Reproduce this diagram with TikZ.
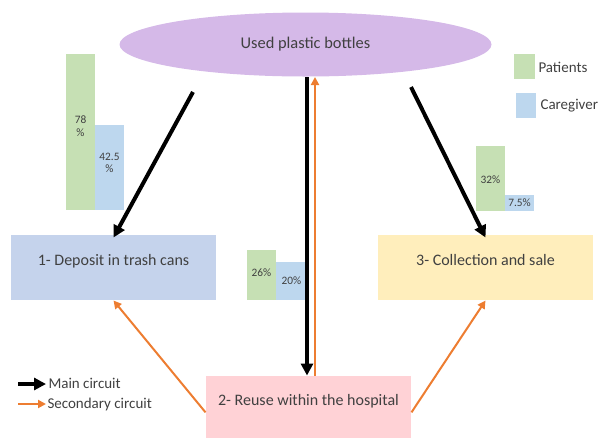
\documentclass[tikz,border=0pt]{standalone}
\usepackage{fontspec}
\setmainfont{Carlito}
\usetikzlibrary{arrows.meta,shapes.geometric}

\definecolor{ellpurple}{HTML}{D5B9E8}
\definecolor{barpatient}{HTML}{C6E0B4}
\definecolor{barcaregiver}{HTML}{BDD7EE}
\definecolor{depositblue}{HTML}{C5D3EC}
\definecolor{reusepink}{HTML}{FFD2D6}
\definecolor{saleyellow}{HTML}{FFEEBC}
\definecolor{secorange}{HTML}{ED7D31}
\definecolor{txtgray}{HTML}{404040}

\tikzset{every picture/.style={line width=0.75pt}}
\tikzset{
	stage/.style={draw=none, inner sep=0pt, text=txtgray, font=\fontsize{12}{14}\selectfont, text depth=11pt, minimum height=48.75pt},
	mainflow/.style={line width=3pt, -{Triangle[length=9pt,width=9pt]}},
	secflow/.style={secorange, line width=1.5pt, -{Triangle[length=6pt,width=6pt]}},
	barlabel/.style={text=txtgray, font=\fontsize{8.5}{9.5}\selectfont, align=center},
	legendlabel/.style={text=txtgray, font=\fontsize{11.25}{13}\selectfont, anchor=west, inner sep=0pt}}

\begin{document}
\begin{tikzpicture}[x=0.75pt,y=0.75pt,yscale=-1,xscale=1]
	\useasboundingbox (0,0) rectangle (600,437);

	%Shape: Ellipse [id:used]
	\node (bottles) [ellipse, fill=ellpurple, inner sep=0pt, minimum width=279pt, minimum height=48pt, text=txtgray, font=\fontsize{12.3}{14}\selectfont] at (305.5,44.5) {Used plastic bottles};

	%Shape: Rectangle [id:deposit]
	\node (deposit) [stage, fill=depositblue, minimum width=153.75pt] at (113.5,267.5) {1- Deposit in trash cans};
	%Shape: Rectangle [id:sale]
	\node (sale) [stage, fill=saleyellow, minimum width=161.25pt] at (485.5,267.5) {3- Collection and sale};
	%Shape: Rectangle [id:reuse]
	\node (reuse) [stage, fill=reusepink, minimum width=153.75pt, minimum height=46.5pt] at (308.5,407) {2- Reuse within the hospital};

	%Shape: Bars deposit
	\fill [barpatient] (66,54) rectangle (95,210);
	\fill [barcaregiver] (95,125) rectangle (124,210);
	%Shape: Bars reuse
	\fill [barpatient] (247,250) rectangle (276,300);
	\fill [barcaregiver] (276,262) rectangle (305,300);
	%Shape: Bars sale
	\fill [barpatient] (476,146) rectangle (505,211);
	\fill [barcaregiver] (505,195) rectangle (534,211);

	% Text Node
	\draw (80.5,126) node [barlabel]  {78\\\%};
	% Text Node
	\draw (109.5,163) node [barlabel]  {42.5\\\%};
	% Text Node
	\draw (261.5,273) node [barlabel]  {26\%};
	\draw (291.5,281) node [barlabel]  {20\%};
	% Text Node
	\draw (490.5,180) node [barlabel]  {32\%};
	\draw (519.5,203) node [barlabel]  {7.5\%};

	%Shape: Legend squares
	\fill [barpatient] (514,54) rectangle (535,79);
	\fill [barcaregiver] (516,93) rectangle (536,118);
	% Text Node
	\draw (538,67) node [legendlabel] (patients) {Patients};
	\draw (540,106) node [legendlabel] (caregiver) {Caregiver};

	% Main circuit
	\coordinate (leftstart) at (193,92);
	\coordinate (rightstart) at (411,87);
	\coordinate (mainx) at (307,0);
	\coordinate (secx) at (315,0);
	\draw [mainflow] (leftstart) -- ([yshift=2.25pt]deposit.north);
	\draw [mainflow] (rightstart) -- ([yshift=2.25pt]sale.north);
	\draw [mainflow] (bottles.south -| mainx) -- (reuse.north -| mainx);

	% Secondary circuit
	\draw [secflow] (reuse.north -| secx) -- (bottles.south -| secx);
	\draw [secflow] ([yshift=4pt]reuse.west) -- (deposit.south);
	\draw [secflow] ([yshift=4pt]reuse.east) -- (sale.south);

	% Legend
	\coordinate (mainA) at (18,384);
	\coordinate (mainB) at (46,384);
	\coordinate (secA) at (18,404);
	\coordinate (secB) at (46,404);
	\draw [mainflow] (mainA) -- (mainB);
	\draw [secflow] (secA) -- (secB);
	\draw (48,383) node [legendlabel] (mainlbl) {Main circuit};
	\draw (47,404) node [legendlabel] (seclbl) {Secondary circuit};

\end{tikzpicture}
\end{document}
